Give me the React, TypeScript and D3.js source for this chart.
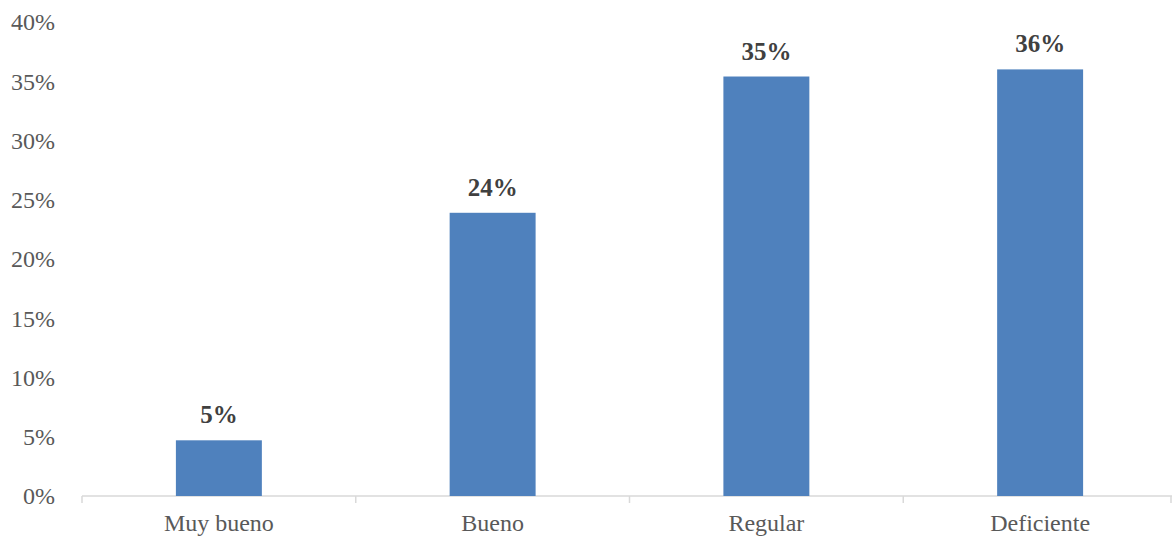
import React from "react";
import * as d3 from "d3";

const categories = ["Muy bueno", "Bueno", "Regular", "Deficiente"];
const values = [4.7, 23.9, 35.4, 36.0];
const labels = ["5%", "24%", "35%", "36%"];
const yTicks = [0, 5, 10, 15, 20, 25, 30, 35, 40];

export default function App() {
  const W = 1172, H = 539;
  const x = d3.scaleBand<string>().domain(categories).range([82, 1177]).paddingInner(0.686).paddingOuter(0.343);
  const band = d3.scaleBand<string>().domain(categories).range([82, 1177]);
  const y = d3.scaleLinear().domain([0, 40]).range([496, 22]);
  const font = "'Liberation Serif', 'Times New Roman', serif";
  return (
    <svg width={W} height={H} style={{ position: "absolute", left: 0, top: 0, background: "#fff" }}>
      {yTicks.map((t) => (
        <text key={t} x={55} y={y(t)} dy="0.35em" textAnchor="end" fontFamily={font} fontSize={24} fill="#595959">
          {t}%
        </text>
      ))}
      <line x1={82} x2={1177} y1={y(0)} y2={y(0)} stroke="#d9d9d9" strokeWidth={1.5} />
      {categories.map((c) => (
        <line key={c} x1={band(c)!} x2={band(c)!} y1={y(0)} y2={y(0) + 7} stroke="#d9d9d9" strokeWidth={1.5} />
      ))}
      <line x1={1171} x2={1171} y1={y(0)} y2={y(0) + 7} stroke="#d9d9d9" strokeWidth={1.5} />
      {categories.map((c, i) => (
        <g key={c}>
          <rect x={x(c)!} y={y(values[i])} width={x.bandwidth()} height={y(0) - y(values[i])} fill="#4F81BD" />
          <text x={x(c)! + x.bandwidth() / 2} y={y(values[i]) - 17} textAnchor="middle" fontFamily={font} fontSize={25} fontWeight="bold" fill="#404040">
            {labels[i]}
          </text>
          <text x={band(c)! + band.bandwidth() / 2} y={531} textAnchor="middle" fontFamily={font} fontSize={24} fill="#595959">
            {c}
          </text>
        </g>
      ))}
    </svg>
  );
}
